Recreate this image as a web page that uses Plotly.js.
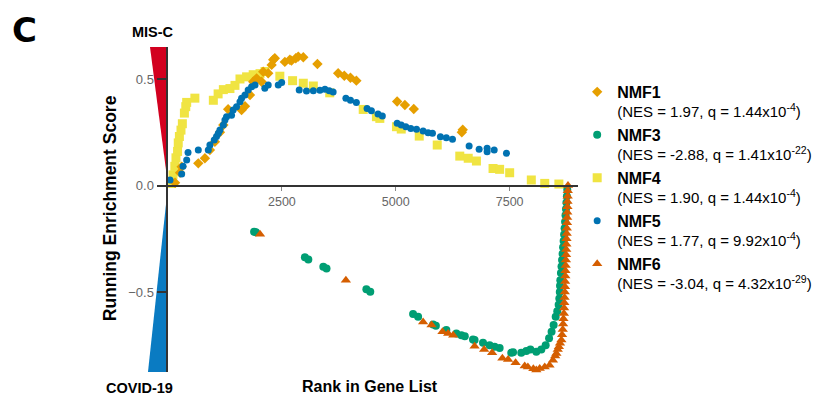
<!DOCTYPE html>
<html>
<head>
<meta charset="utf-8">
<script src="https://cdn.plot.ly/plotly-3.0.1.min.js"></script>
<style>html,body{margin:0;padding:0;background:#fff;}#chart{width:815px;height:396px;}</style>
</head>
<body>
<div id="chart"></div>
<script>
// ---- data ----
const seriesNames = ['NMF1', 'NMF3', 'NMF4', 'NMF5', 'NMF6'];
const nesValues = ['1.97', '-2.88', '1.90', '1.77', '-3.04'];
const qMantissa = ['1.44', '1.41', '1.44', '9.92', '4.32'];
const qExponent = ['-4', '-22', '-4', '-4', '-29'];

const xTickVals = [2500, 5000, 7500];
const yTickVals = [-0.5, 0, 0.5];

const nmf1X = [155, 265, 300, 665, 810, 920, 1030, 1140, 1215, 1320, 1615, 1690, 1800, 1870, 1945, 2055, 2090, 2200, 2275, 2310, 2345, 2565, 2675, 2710, 2805, 2860, 2970, 3280, 3735, 3870, 4005, 4135, 5030, 5200, 5395, 6450, 6470];
const nmf1Y = [0.013, 0.06, 0.088, 0.104, 0.128, 0.167, 0.205, 0.25, 0.284, 0.358, 0.354, 0.372, 0.425, 0.487, 0.503, 0.487, 0.534, 0.527, 0.566, 0.59, 0.597, 0.58, 0.59, 0.586, 0.597, 0.605, 0.602, 0.57, 0.527, 0.515, 0.506, 0.492, 0.394, 0.378, 0.359, 0.25, 0.262];

const nmf3X = [1890, 1930, 3005, 3080, 3410, 3480, 4355, 4440, 5380, 5490, 5820, 5880, 6110, 6330, 6440, 6515, 6695, 6730, 6915, 7060, 7170, 7280, 7535, 7575, 7755, 7865, 7955, 8085, 8195, 8290, 8365, 8420, 8465, 8510, 8545, 8575, 8590, 8600, 8605, 8612, 8625, 8638, 8650, 8662, 8672, 8684, 8695, 8706, 8716, 8726, 8736, 8746, 8756, 8764];
const nmf3Y = [-0.217, -0.219, -0.337, -0.347, -0.381, -0.389, -0.487, -0.498, -0.603, -0.616, -0.652, -0.658, -0.678, -0.694, -0.702, -0.707, -0.722, -0.725, -0.738, -0.749, -0.757, -0.762, -0.785, -0.782, -0.785, -0.776, -0.769, -0.78, -0.769, -0.749, -0.717, -0.686, -0.655, -0.616, -0.59, -0.56, -0.53, -0.5, -0.47, -0.445, -0.41, -0.38, -0.35, -0.32, -0.29, -0.26, -0.23, -0.2, -0.17, -0.14, -0.11, -0.08, -0.05, -0.02];

const nmf4X = [80, 110, 150, 175, 210, 225, 250, 285, 315, 360, 390, 410, 590, 995, 1100, 1215, 1360, 1470, 1580, 1725, 1870, 2020, 2130, 2455, 2735, 2970, 3190, 3550, 4285, 4575, 4650, 5015, 5120, 5515, 5910, 6405, 6590, 6770, 7135, 7280, 7500, 7975, 8270, 8580];
const nmf4Y = [0.01, 0.05, 0.09, 0.13, 0.16, 0.2, 0.23, 0.26, 0.29, 0.34, 0.37, 0.39, 0.41, 0.4, 0.43, 0.45, 0.455, 0.47, 0.5, 0.51, 0.52, 0.525, 0.535, 0.513, 0.492, 0.48, 0.467, 0.435, 0.357, 0.323, 0.315, 0.276, 0.265, 0.232, 0.19, 0.138, 0.128, 0.115, 0.08, 0.076, 0.06, 0.026, 0.01, 0.007];

const nmf5X = [45, 300, 330, 410, 440, 665, 885, 920, 1015, 1065, 1105, 1140, 1215, 1250, 1285, 1395, 1430, 1505, 1580, 1615, 1690, 1760, 1835, 1910, 2125, 2200, 2420, 2495, 2880, 3040, 3190, 3335, 3445, 3540, 3625, 3905, 4005, 4135, 4370, 4465, 4610, 4705, 5030, 5120, 5220, 5330, 5455, 5600, 5710, 5805, 5980, 6110, 6245, 6610, 6830, 7005, 7005, 7160, 7430];
const nmf5Y = [0.026, 0.054, 0.09, 0.12, 0.155, 0.167, 0.167, 0.19, 0.214, 0.23, 0.245, 0.26, 0.284, 0.307, 0.323, 0.33, 0.354, 0.37, 0.393, 0.41, 0.425, 0.448, 0.464, 0.472, 0.456, 0.472, 0.472, 0.483, 0.448, 0.444, 0.445, 0.447, 0.452, 0.445, 0.439, 0.409, 0.4, 0.389, 0.362, 0.351, 0.336, 0.326, 0.292, 0.284, 0.276, 0.268, 0.264, 0.256, 0.248, 0.245, 0.229, 0.224, 0.217, 0.185, 0.17, 0.175, 0.159, 0.167, 0.151];

const nmf6X = [2020, 3905, 5600, 5785, 6025, 6150, 6260, 6730, 6940, 7115, 7340, 7465, 7630, 7830, 7900, 8020, 8085, 8160, 8270, 8375, 8450, 8500, 8525, 8555, 8580, 8605, 8635, 8650, 8665, 8672, 8680, 8690, 8695, 8700, 8705, 8710, 8715, 8718, 8722, 8726, 8730, 8735, 8738, 8742, 8745, 8748, 8752, 8755, 8758, 8762, 8765, 8768, 8770, 8773, 8776, 8780];
const nmf6Y = [-0.229, -0.444, -0.64, -0.655, -0.686, -0.694, -0.702, -0.754, -0.769, -0.785, -0.811, -0.816, -0.832, -0.847, -0.851, -0.86, -0.866, -0.858, -0.851, -0.843, -0.82, -0.8, -0.788, -0.77, -0.757, -0.74, -0.725, -0.7, -0.675, -0.65, -0.625, -0.6, -0.575, -0.55, -0.525, -0.5, -0.475, -0.45, -0.425, -0.4, -0.375, -0.35, -0.325, -0.3, -0.275, -0.25, -0.225, -0.2, -0.175, -0.15, -0.125, -0.1, -0.075, -0.05, -0.025, 0.0];

// ---- styling ----
const FONT = 'Liberation Sans, Arial, Helvetica, sans-serif';
const colors = {NMF1: '#E69F00', NMF3: '#009E73', NMF4: '#F0E442', NMF5: '#0072B2', NMF6: '#D55E00'};
const symbols = {NMF1: 'diamond', NMF3: 'circle', NMF4: 'square', NMF5: 'circle', NMF6: 'triangle-up'};
const sizes = {NMF1: 8, NMF3: 8, NMF4: 9, NMF5: 7, NMF6: 9};
const dataMap = {NMF1: [nmf1X, nmf1Y], NMF3: [nmf3X, nmf3Y], NMF4: [nmf4X, nmf4Y], NMF5: [nmf5X, nmf5Y], NMF6: [nmf6X, nmf6Y]};
const drawOrder = ['NMF4', 'NMF1', 'NMF5', 'NMF3', 'NMF6'];

function legendLabel(i) {
  return '<span style="font-size:16px"><b>' + seriesNames[i] + '</b></span><br>(NES = ' + nesValues[i] +
    ', q = ' + qMantissa[i] + 'x10<sup>' + qExponent[i] + '</sup>)';
}

const traces = drawOrder.map(function (name) {
  const i = seriesNames.indexOf(name);
  return {
    type: 'scatter', mode: 'markers',
    x: dataMap[name][0], y: dataMap[name][1],
    name: legendLabel(i),
    legendrank: i + 1,
    legendgroup: name,
    cliponaxis: false,
    marker: {symbol: symbols[name], size: sizes[name], color: colors[name], line: {width: 0}},
    hoverinfo: 'skip'
  };
});

const yMin = -0.875, yMax = 0.65;
const zeroPos = (0 - yMin) / (yMax - yMin);

const layout = {
  width: 815, height: 396,
  margin: {l: 168, r: 237, t: 47, b: 24, autoexpand: false},
  paper_bgcolor: '#fff', plot_bgcolor: '#fff',
  font: {family: FONT, color: '#000'},
  showlegend: true,
  legend: {
    x: 0.998, xanchor: 'left', y: 0.912, yanchor: 'top',
    font: {family: FONT, size: 15, color: '#000'},
    valign: 'top', tracegroupgap: 1, itemwidth: 30,
    bgcolor: 'rgba(0,0,0,0)'
  },
  xaxis: {
    range: [0, 9000],
    anchor: 'free', position: zeroPos,
    showline: true, linecolor: '#333', linewidth: 2,
    showgrid: false, zeroline: false,
    ticks: 'outside', ticklen: 4, tickwidth: 1, tickcolor: '#888',
    tickmode: 'array', tickvals: xTickVals,
    tickfont: {family: FONT, size: 12.5, color: '#666'}
  },
  yaxis: {
    range: [yMin, yMax],
    showline: true, linecolor: '#333', linewidth: 2.5,
    showgrid: false, zeroline: false,
    ticks: 'outside', ticklen: 9, tickwidth: 2, tickcolor: '#333',
    tickmode: 'array', tickvals: yTickVals, tickformat: '.1f',
    tickfont: {family: FONT, size: 13, color: '#666'}
  },
  shapes: [
    {type: 'path', xref: 'paper', yref: 'paper', path: 'M -0.0439 1 L 0 1 L 0 ' + zeroPos + ' Z', fillcolor: '#D2001F', line: {width: 0}, layer: 'below'},
    {type: 'path', xref: 'paper', yref: 'paper', path: 'M 0 ' + zeroPos + ' L 0 0 L -0.0488 0 Z', fillcolor: '#0A7BC2', line: {width: 0}, layer: 'below'}
  ],
  annotations: [
    {text: '<b>C</b>', xref: 'paper', yref: 'paper', x: -0.3488, y: 1.052, xanchor: 'center', yanchor: 'middle', showarrow: false, font: {family: 'DejaVu Sans, ' + FONT, size: 34, color: '#000'}},
    {text: '<b>MIS-C</b>', xref: 'paper', yref: 'paper', x: -0.0366, y: 1.046, xanchor: 'center', yanchor: 'middle', showarrow: false, font: {family: FONT, size: 14.5, color: '#000'}},
    {text: '<b>COVID-19</b>', xref: 'paper', yref: 'paper', x: -0.0707, y: -0.0492, xanchor: 'center', yanchor: 'middle', showarrow: false, font: {family: FONT, size: 14.5, color: '#000'}},
    {text: '<b>Running Enrichment Score</b>', xref: 'paper', yref: 'paper', x: -0.141, y: 0.5046, xanchor: 'center', yanchor: 'middle', textangle: -90, showarrow: false, font: {family: FONT, size: 17.5, color: '#000'}},
    {text: '<b>Rank in Gene List</b>', xref: 'paper', yref: 'paper', x: 0.4927, y: -0.0446, xanchor: 'center', yanchor: 'middle', showarrow: false, font: {family: FONT, size: 16, color: '#000'}}
  ],
  hovermode: false
};

Plotly.newPlot('chart', traces, layout, {displayModeBar: false, staticPlot: true});
</script>
</body>
</html>
